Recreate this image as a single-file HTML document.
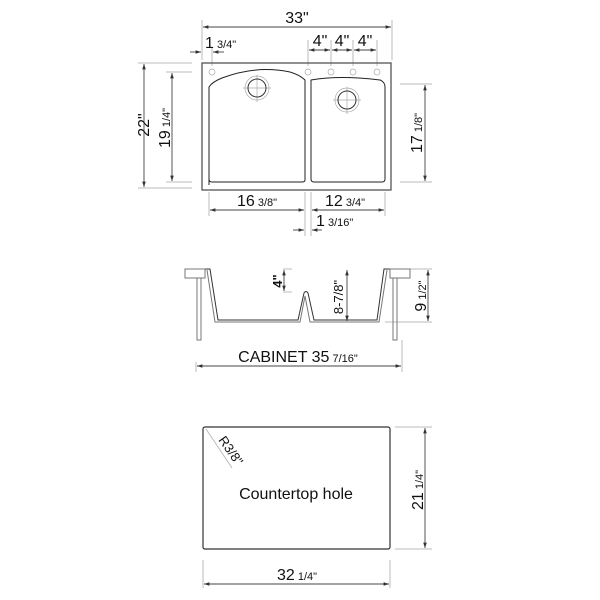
<!DOCTYPE html>
<html><head><style>body{margin:0;background:#fff}svg{display:block}text{font-family:"Liberation Sans",sans-serif;fill:#111}</style></head><body>
<svg width="600" height="600" viewBox="0 0 600 600" xmlns="http://www.w3.org/2000/svg">
<defs><marker id="a" markerWidth="6" markerHeight="4" refX="6" refY="2" orient="auto-start-reverse"><path d="M0,0L6,2L0,4z" fill="#333"/></marker></defs>
<g stroke="#bbb" stroke-width="1" fill="none">
<line x1="202" y1="20" x2="202" y2="60"/><line x1="392" y1="20" x2="392" y2="60"/>
<line x1="212" y1="48" x2="212" y2="66"/>
<line x1="308" y1="40" x2="308" y2="66"/><line x1="331" y1="40" x2="331" y2="66"/><line x1="353" y1="40" x2="353" y2="66"/><line x1="377" y1="40" x2="377" y2="66"/>
<line x1="138" y1="63" x2="192" y2="63"/><line x1="138" y1="188" x2="192" y2="188"/>
<line x1="166" y1="72" x2="192" y2="72"/><line x1="166" y1="182" x2="192" y2="182"/>
<line x1="400" y1="84" x2="432" y2="84"/><line x1="400" y1="182" x2="432" y2="182"/>
<line x1="209" y1="192" x2="209" y2="216"/><line x1="305" y1="192" x2="305" y2="236"/><line x1="311" y1="192" x2="311" y2="236"/><line x1="385" y1="192" x2="385" y2="216"/>
<line x1="196" y1="362" x2="196" y2="372"/><line x1="402" y1="340" x2="402" y2="372"/>
<line x1="398" y1="269" x2="432" y2="269"/><line x1="385" y1="322" x2="432" y2="322"/>
<line x1="283" y1="269" x2="292" y2="269"/><line x1="283" y1="292" x2="292" y2="292"/>
<line x1="395" y1="427" x2="432" y2="427"/><line x1="395" y1="549" x2="432" y2="549"/>
<line x1="203" y1="560" x2="203" y2="588"/><line x1="390" y1="560" x2="390" y2="588"/>
<line x1="206" y1="429" x2="232" y2="468"/>
</g>
<g stroke="#444" stroke-width="0.9" fill="none" marker-start="url(#a)" marker-end="url(#a)">
<line x1="203" y1="27" x2="391" y2="27"/>
<line x1="309" y1="50" x2="330" y2="50"/><line x1="332" y1="50" x2="352" y2="50"/><line x1="354" y1="50" x2="376" y2="50"/>
<line x1="144" y1="64" x2="144" y2="187"/>
<line x1="172" y1="73" x2="172" y2="181"/>
<line x1="425" y1="85" x2="425" y2="181"/>
<line x1="210" y1="210" x2="304" y2="210"/><line x1="312" y1="210" x2="384" y2="210"/>
<line x1="284" y1="270" x2="284" y2="291"/><line x1="347" y1="270" x2="347" y2="321"/>
<line x1="428" y1="270" x2="428" y2="321"/>
<line x1="197" y1="366" x2="401" y2="366"/>
<line x1="425" y1="428" x2="425" y2="548"/>
<line x1="204" y1="584" x2="389" y2="584"/>
</g>
<g stroke="#444" stroke-width="0.9" fill="none" marker-end="url(#a)">
<line x1="190" y1="52" x2="201" y2="52"/><line x1="224" y1="52" x2="213" y2="52"/>
<line x1="293" y1="230" x2="304" y2="230"/><line x1="322" y1="230" x2="312" y2="230"/>
</g>
<g fill="none" stroke="#555">
<rect x="202" y="63" width="189" height="127" stroke-width="1.3"/>
<path d="M209,185V87Q212,82 222,78Q256,65 290,72Q300,75 305,80V180Q305,182 302,182H212Q209,182 209,179Z" stroke="#222" stroke-width="1"/>
<path d="M311,80Q340,75 380,80Q385,82 385,87V179Q385,182 382,182H314Q311,182 311,179Z" stroke="#222" stroke-width="1"/>
<g stroke="#aaa" stroke-width="0.7"><circle cx="212" cy="72" r="3"/><circle cx="308" cy="72" r="3"/><circle cx="331" cy="72" r="3"/><circle cx="353" cy="72" r="3"/><circle cx="377" cy="72" r="3"/>
<circle cx="257" cy="88" r="12"/><line x1="243" y1="88" x2="271" y2="88"/><line x1="257" y1="75" x2="257" y2="102"/>
<circle cx="347" cy="100" r="12"/><line x1="333" y1="100" x2="361" y2="100"/><line x1="347" y1="87" x2="347" y2="114"/></g>
<circle cx="257" cy="88" r="9" stroke="#333"/><circle cx="347" cy="100" r="9" stroke="#333"/>
</g>
<g fill="none" stroke="#333" stroke-width="1">
<path d="M204,269H210L218,320H298L304,293Q306,290 308,293L314,320H377L384,269H390"/>
<path d="M207,270L215,322H300L305,296L310,322H379L387,270" stroke="#777"/>
<rect x="185" y="269" width="20" height="9" stroke="#777"/><rect x="390" y="269" width="20" height="9" stroke="#777"/>
<rect x="197" y="278" width="4" height="62" stroke="#777"/><rect x="393" y="278" width="4" height="62" stroke="#777"/>
</g>
<rect x="203" y="427" width="187" height="122" rx="2" fill="none" stroke="#333" stroke-width="1.2"/>
<g font-size="16">
<text x="297" y="23" text-anchor="middle">33"</text>
<text x="205" y="48">1<tspan font-size="11"> 3/4"</tspan></text>
<text x="320" y="46" text-anchor="middle">4"</text><text x="342" y="46" text-anchor="middle">4"</text><text x="365" y="46" text-anchor="middle">4"</text>
<text transform="translate(149,125) rotate(-90)" text-anchor="middle">22"</text>
<text transform="translate(170,128) rotate(-90)" text-anchor="middle">19<tspan font-size="11"> 1/4"</tspan></text>
<text transform="translate(422,133) rotate(-90)" text-anchor="middle">17<tspan font-size="11"> 1/8"</tspan></text>
<text x="257" y="206" text-anchor="middle">16<tspan font-size="11"> 3/8"</tspan></text>
<text x="345" y="206" text-anchor="middle">12<tspan font-size="11"> 3/4"</tspan></text>
<text x="316" y="226">1<tspan font-size="11"> 3/16"</tspan></text>
<text transform="translate(282,281) rotate(-90)" text-anchor="middle" font-size="13" font-weight="bold">4"</text>
<text transform="translate(343,297) rotate(-90)" text-anchor="middle" font-size="13">8-7/8"</text>
<text transform="translate(426,296) rotate(-90)" text-anchor="middle">9<tspan font-size="11"> 1/2"</tspan></text>
<text x="298" y="362" text-anchor="middle">CABINET 35<tspan font-size="11"> 7/16"</tspan></text>
<text x="296" y="499" text-anchor="middle">Countertop hole</text>
<text transform="translate(218,440) rotate(55)" font-size="13">R3/8"</text>
<text transform="translate(423,490) rotate(-90)" text-anchor="middle">21<tspan font-size="11"> 1/4"</tspan></text>
<text x="297" y="580" text-anchor="middle">32<tspan font-size="11"> 1/4"</tspan></text>
</g>
</svg>
</body></html>
